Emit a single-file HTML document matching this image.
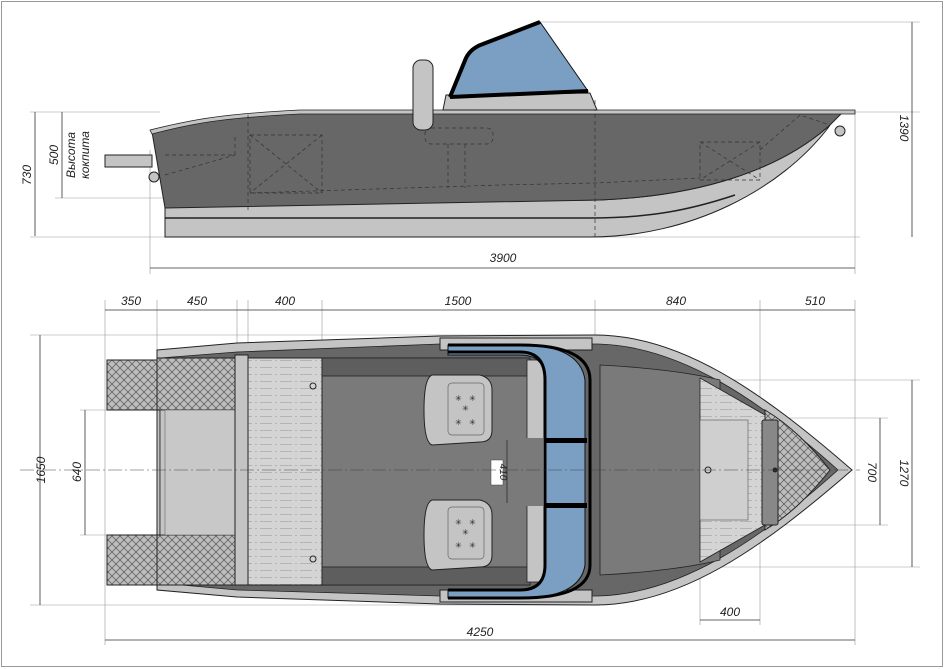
<!DOCTYPE html>
<html><head><meta charset="utf-8"><style>
html,body{margin:0;padding:0;background:#fff;}
svg{display:block;}
text{font-family:"Liberation Sans","DejaVu Sans",sans-serif;font-style:italic;fill:#222;}
</style></head><body>
<svg width="945" height="669" viewBox="0 0 945 669" xmlns="http://www.w3.org/2000/svg">
<defs>
<pattern id="xh" width="8" height="8" patternUnits="userSpaceOnUse">
<rect width="8" height="8" fill="#bdbdbd"/>
<path d="M0 0L8 8M8 0L0 8" stroke="#555" stroke-width="0.7"/>
</pattern>
<pattern id="pl" width="20" height="7" patternUnits="userSpaceOnUse">
<rect width="20" height="7" fill="#d4d4d4"/>
<path d="M0 3.5H12M15 3.5H17" stroke="#aaa" stroke-width="0.8"/>
</pattern>
</defs>
<rect x="1.5" y="1.5" width="941" height="665" fill="#fff" stroke="#999"/>

<g stroke="#999" stroke-width="0.6" fill="none">
<line x1="30" y1="112" x2="160" y2="112"/>
<line x1="30" y1="237" x2="860" y2="237"/>
<line x1="55" y1="198" x2="165" y2="198"/>
<line x1="540" y1="22" x2="920" y2="22"/>
<line x1="855" y1="112" x2="920" y2="112"/>
<line x1="150" y1="150" x2="150" y2="274"/>
<line x1="855" y1="112" x2="855" y2="274"/>
<line x1="30" y1="335" x2="600" y2="335"/>
<line x1="30" y1="605" x2="600" y2="605"/>
<line x1="80" y1="410" x2="160" y2="410"/>
<line x1="80" y1="535" x2="160" y2="535"/>
<line x1="720" y1="380" x2="920" y2="380"/>
<line x1="720" y1="567" x2="920" y2="567"/>
<line x1="760" y1="418" x2="888" y2="418"/>
<line x1="760" y1="525" x2="888" y2="525"/>
<line x1="105" y1="300" x2="105" y2="645"/>
<line x1="157" y1="300" x2="157" y2="360"/>
<line x1="237" y1="300" x2="237" y2="360"/>
<line x1="248" y1="300" x2="248" y2="360"/>
<line x1="322" y1="300" x2="322" y2="360"/>
<line x1="595" y1="300" x2="595" y2="340"/>
<line x1="760" y1="300" x2="760" y2="625"/>
<line x1="855" y1="300" x2="855" y2="645"/>
<line x1="700" y1="560" x2="700" y2="625"/>
</g>

<g stroke="#333" stroke-width="0.8">
<line x1="35" y1="112" x2="35" y2="236"/>
<line x1="62" y1="112" x2="62" y2="198"/>
<line x1="912" y1="22" x2="912" y2="237"/>
<line x1="150" y1="268" x2="855" y2="268"/>
<line x1="105" y1="310" x2="855" y2="310"/>
<line x1="40" y1="335" x2="40" y2="605"/>
<line x1="85" y1="410" x2="85" y2="535"/>
<line x1="880" y1="418" x2="880" y2="525"/>
<line x1="912" y1="380" x2="912" y2="567"/>
<line x1="105" y1="640" x2="855" y2="640"/>
<line x1="700" y1="620" x2="760" y2="620"/>
</g>
<g font-size="12">
<text transform="translate(31,175) rotate(-90)" text-anchor="middle">730</text>
<text transform="translate(58,155) rotate(-90)" text-anchor="middle">500</text>
<text transform="translate(75,155) rotate(-90)" text-anchor="middle">Высота</text>
<text transform="translate(89,155) rotate(-90)" text-anchor="middle">кокпита</text>
<text transform="translate(900,128) rotate(90)" text-anchor="middle">1390</text>
<text x="503" y="262" text-anchor="middle">3900</text>
<text x="131" y="305" text-anchor="middle">350</text>
<text x="197" y="305" text-anchor="middle">450</text>
<text x="285" y="305" text-anchor="middle">400</text>
<text x="458" y="305" text-anchor="middle">1500</text>
<text x="676" y="305" text-anchor="middle">840</text>
<text x="815" y="305" text-anchor="middle">510</text>
<text transform="translate(45,470) rotate(-90)" text-anchor="middle">1650</text>
<text transform="translate(81,472) rotate(-90)" text-anchor="middle">640</text>
<text transform="translate(868,472) rotate(90)" text-anchor="middle">700</text>
<text transform="translate(900,473) rotate(90)" text-anchor="middle">1270</text>
<text x="480" y="636" text-anchor="middle">4250</text>
<text x="730" y="616" text-anchor="middle">400</text>
</g>

<!-- SIDE VIEW -->
<rect x="105" y="155" width="47" height="12" fill="#c4c4c4" stroke="#222"/>
<circle cx="154" cy="177" r="5" fill="#c4c4c4" stroke="#222"/>
<path d="M165 205 L165 237 L590 237 C690 237 780 190 828 128 L830 125 C780 170 700 196 600 200 Z" fill="#c4c4c4" stroke="#222"/>
<path d="M165 218 L590 218 C650 218 690 210 735 195" fill="none" stroke="#222" stroke-width="1.5"/>
<path d="M152 132 C190 122 220 116 300 113 L842 113 L830 125 C780 170 700 196 600 200 L165 208 Z" fill="#676767" stroke="#222"/>
<path d="M150 130 C190 120 220 114 300 110 L855 110 L855 114 L300 114 C220 118 190 124 152 134Z" fill="#c4c4c4" stroke="#222" stroke-width="0.8"/>
<circle cx="840" cy="131" r="5" fill="#c4c4c4" stroke="#222"/>
<g stroke="#333" stroke-width="0.7" stroke-dasharray="4,3" fill="none">
<rect x="250" y="135" width="72" height="58"/><path d="M250 135L322 193M322 135L250 193"/>
<rect x="700" y="142" width="60" height="38"/><path d="M700 142L760 180M760 142L700 180"/>
<path d="M165 155H235V135M165 175L235 155"/>
<path d="M248 210L248 115M595 100V237"/>
<path d="M250 193L500 185L595 183L700 178"/>
<path d="M760 150L800 115L830 125"/>
<rect x="425" y="128" width="68" height="16" rx="6"/><path d="M448 144V188M465 144V188"/>
</g>
<path d="M443 110 L446 95 L590 93 L597 110Z" fill="#c4c4c4" stroke="#222"/>
<rect x="540" y="88" width="25" height="5" fill="#c4c4c4" stroke="#222" stroke-width="0.6"/>
<rect x="413" y="60" width="20" height="70" rx="8" fill="#c4c4c4" stroke="#222"/>
<path d="M450 97 L466 58 Q471 48 483 44 L540 22 L588 91 Z" fill="#7b9fc2" stroke="#111" stroke-width="1"/>
<path d="M450 97 L466 58 Q471 48 483 44 L540 22 M450 97 L588 91" fill="none" stroke="#000" stroke-width="4"/>

<!-- TOP VIEW -->
<path d="M157 350 L237 343 L440 336 L595 335 C680 335 760 390 852 470 C760 550 680 605 595 605 L440 604 L237 597 L157 590Z" fill="#c4c4c4" stroke="#222"/>
<path d="M160 358 L237 352 L440 344 L598 344 C680 346 760 400 838 470 C760 540 680 594 598 596 L440 596 L237 590 L160 583Z" fill="#676767" stroke="#222" stroke-width="0.8"/>
<path d="M600 365 C660 368 700 375 720 380 L720 560 C700 565 660 572 600 575Z" fill="#7a7a7a" stroke="#222" stroke-width="0.8"/>
<path d="M700 378 L765 415 L765 525 L700 562Z" fill="url(#pl)" stroke="#222" stroke-width="0.8"/>
<rect x="700" y="420" width="48" height="100" fill="#cfcfcf" stroke="#555" stroke-width="0.6"/>
<path d="M765 410 C790 425 810 445 830 470 C810 495 790 515 765 530Z" fill="url(#xh)" stroke="#222"/>
<rect x="762" y="420" width="16" height="105" rx="2" fill="#888" stroke="#222"/>
<circle cx="708" cy="470" r="3" fill="none" stroke="#222"/>
<circle cx="775" cy="470" r="2.5" fill="#222"/>

<rect x="107" y="360" width="50" height="50" fill="url(#xh)" stroke="#222"/>
<rect x="157" y="358" width="78" height="52" fill="url(#xh)" stroke="#222"/>
<rect x="107" y="535" width="50" height="50" fill="url(#xh)" stroke="#222"/>
<rect x="157" y="535" width="78" height="50" fill="url(#xh)" stroke="#222"/>
<rect x="160" y="410" width="75" height="125" fill="#c4c4c4" stroke="#222" stroke-width="0.8"/>
<rect x="165" y="410" width="70" height="125" fill="#c8c8c8" stroke="#555" stroke-width="0.5"/>
<rect x="235" y="355" width="13" height="230" fill="#c4c4c4" stroke="#222"/>
<rect x="248" y="358" width="74" height="227" fill="url(#pl)" stroke="#222"/>
<circle cx="313" cy="386" r="3" fill="none" stroke="#222"/>
<circle cx="313" cy="559" r="3" fill="none" stroke="#222"/>
<rect x="322" y="358" width="208" height="227" fill="#7a7a7a" stroke="#222"/>
<rect x="322" y="358" width="208" height="18" fill="#5e5e5e" stroke="#222" stroke-width="0.8"/>
<rect x="322" y="567" width="208" height="18" fill="#5e5e5e" stroke="#222" stroke-width="0.8"/>
<g fill="#c4c4c4" stroke="#222">
<path d="M432 375 L480 375 Q492 378 492 390 L492 430 Q492 442 480 442 L432 445 Q424 442 424 410 Q424 378 432 375Z"/>
<path d="M432 500 L480 500 Q492 503 492 515 L492 555 Q492 567 480 567 L432 570 Q424 567 424 535 Q424 503 432 500Z"/>
</g>
<rect x="448" y="383" width="36" height="52" rx="4" fill="none" stroke="#666" stroke-width="0.7"/>
<rect x="448" y="507" width="36" height="52" rx="4" fill="none" stroke="#666" stroke-width="0.7"/>
<g font-size="8" fill="#444" font-style="normal">
<text x="455" y="401">✳</text><text x="469" y="401">✳</text><text x="462" y="411">✳</text><text x="455" y="425">✳</text><text x="469" y="425">✳</text>
<text x="455" y="525">✳</text><text x="469" y="525">✳</text><text x="462" y="535">✳</text><text x="455" y="548">✳</text><text x="469" y="548">✳</text>
</g>
<rect x="527" y="360" width="18" height="222" fill="#c4c4c4" stroke="#222" stroke-width="0.8"/>
<rect x="503" y="438" width="40" height="68" fill="#7a7a7a"/>
<line x1="507" y1="440" x2="507" y2="503" stroke="#222" stroke-width="0.7"/>
<rect x="491" y="460" width="12" height="25" fill="#fff" stroke="#444" stroke-width="0.5"/>
<text transform="translate(500,472) rotate(90)" text-anchor="middle" font-size="10">410</text>
<rect x="440" y="338" width="152" height="12" fill="#c4c4c4" stroke="#222"/>
<rect x="440" y="590" width="152" height="12" fill="#c4c4c4" stroke="#222"/>
<path d="M448 345 L520 345 Q580 345 585 380 L585 565 Q580 598 520 598 L448 598 L448 590 L520 590 Q545 590 545 565 L545 380 Q545 355 520 355 L448 355Z" fill="#7b9fc2" stroke="#111"/>
<path d="M448 345 L520 345 Q590 345 590 380 L590 565 Q590 598 520 598 L448 598" fill="none" stroke="#000" stroke-width="3"/>
<path d="M448 352 L520 352 Q545 352 545 380 L545 565 Q545 590 520 590 L448 590" fill="none" stroke="#000" stroke-width="3"/>
<rect x="545" y="438" width="42" height="5" fill="#000"/>
<rect x="545" y="503" width="42" height="5" fill="#000"/>

<line x1="20" y1="470" x2="860" y2="470" stroke="#444" stroke-width="0.6" stroke-dasharray="14,3,2,3"/>
</svg>
</body></html>
